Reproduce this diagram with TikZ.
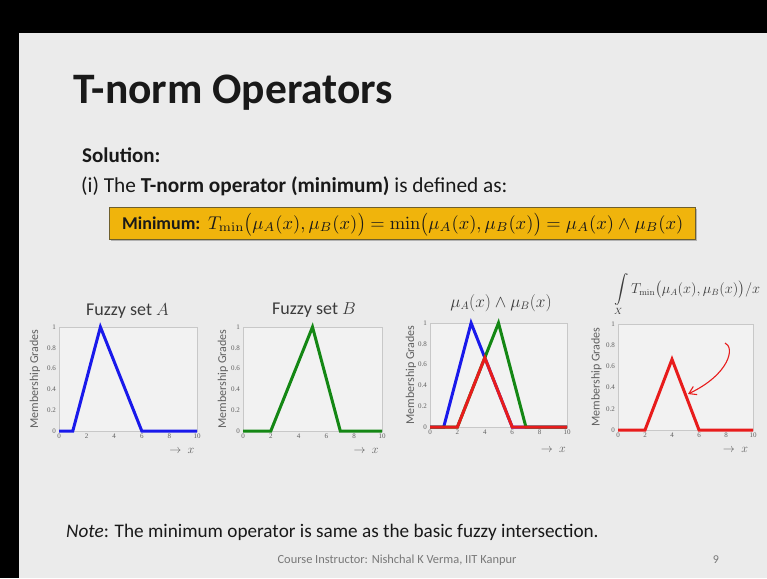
\documentclass[tikz,border=0pt]{standalone}
\usepackage[no-math]{fontspec}
\setmainfont{Carlito}
\newfontfamily\tickfont{Liberation Serif}
\usepackage{amsmath}
\usepackage{graphicx}
\usetikzlibrary{arrows.meta}
\definecolor{slidebg}{RGB}{235,235,235}
\definecolor{plotbg}{RGB}{242,242,242}
\definecolor{framegray}{RGB}{200,200,200}
\definecolor{tickgray}{RGB}{95,95,95}
\definecolor{boxfill}{RGB}{240,180,12}
\definecolor{boxdraw}{RGB}{110,95,45}
\definecolor{cblue}{RGB}{25,25,235}
\definecolor{cgreen}{RGB}{20,135,20}
\definecolor{cred}{RGB}{232,28,28}
\definecolor{textdark}{RGB}{25,25,25}
\definecolor{footgray}{RGB}{120,120,120}

\newcommand\bigpL{\mathopen{\vcenter{\hbox{\scalebox{1.1}[1.25]{$($}}}}}
\newcommand\bigpR{\mathclose{\vcenter{\hbox{\scalebox{1.1}[1.25]{$)$}}}}}

\tikzset{
  frame/.style={draw=framegray, line width=0.6pt, fill=plotbg},
  xticklab/.style={font=\tickfont\fontsize{7}{7}\selectfont, text=tickgray, anchor=north, inner sep=1pt, yshift=-2pt},
  yticklab/.style={font=\tickfont\fontsize{7}{7}\selectfont, text=tickgray, anchor=east, inner sep=1pt, xshift=-2pt},
  ylab/.style={rotate=90, font=\fontsize{12}{12}\selectfont, text=tickgray, inner sep=0pt},
  xarrow/.style={font=\fontsize{13}{13}\selectfont, text=tickgray, inner sep=0pt},
  ptitle/.style={font=\fontsize{18}{20}\selectfont, text=textdark!85, inner sep=0pt},
  curveA/.style={draw=cblue, line width=3pt},
  curveB/.style={draw=cgreen, line width=3pt},
  curveM/.style={draw=cred, line width=3pt},
  bodytext/.style={font=\fontsize{21}{25}\selectfont, text=textdark, inner sep=0pt, anchor=base west},
}

\newcommand\plotaxes[1]{%
  \draw[frame] (0,0) rectangle (10,1);
  \foreach \t [count=\i] in {0,2,4,6,8,10} \node[xticklab] (#1x\i) at (\t,0) {\t};
  \foreach \v/\n [count=\i] in {0/0,0.2/0.2,0.4/0.4,0.6/0.6,0.8/0.8,1/1} \node[yticklab] (#1y\i) at (0,\v) {\n};
}

\begin{document}
\begin{tikzpicture}[x=1pt,y=-1pt]
\useasboundingbox (0,0) rectangle (767,578);
\fill[black] (0,0) rectangle (767,578);
\fill[slidebg] (19,33) rectangle (767,578);

\node[anchor=base west, font=\fontsize{43.5}{50}\selectfont\bfseries, text=textdark, inner sep=0pt] (title) at (73,103) {T-norm Operators};
\node[bodytext, font=\fontsize{21}{25}\selectfont\bfseries] (sol) at (82,162) {Solution:};
\node[bodytext, font=\fontsize{21.3}{25}\selectfont] (def) at (81,192) {(i) The \textbf{T-norm operator (minimum)} is defined as:};

% formula box
\fill[black!30] (111,209) rectangle (697,241);
\node[draw=boxdraw, fill=boxfill, line width=0.8pt, minimum width=586pt, minimum height=32pt, anchor=north west, inner sep=0pt] (box) at (109,207) {};
\node[anchor=base west, font=\fontsize{18}{22}\selectfont\bfseries, text=textdark, inner sep=0pt] (minlab) at (122,229) {Minimum:};
\node[anchor=base west, inner sep=0pt, text=textdark] (formula) at (208,229) {\resizebox{475pt}{!}{$T_{\min}\bigpL\mu_A(x),\mu_B(x)\bigpR=\min\bigpL\mu_A(x),\mu_B(x)\bigpR=\mu_A(x)\wedge\mu_B(x)$}};

% plot 1
\node[ptitle] (ta) at (127.5,311) {Fuzzy set $A$};
\begin{scope}[shift={(59,431)}, x=13.8pt, y=104pt]
  \plotaxes{pa}
  \draw[curveA] (0,0) -- (1,0) -- (3,1) -- (6,0) -- (10,0);
  \node[ylab] (pal) at (-1.75,0.5) {Membership Grades};
  \node[xarrow] (pax) at (8.9,-0.19) {$\rightarrow\ x$};
\end{scope}

% plot 2
\node[ptitle] (tb) at (314,310) {Fuzzy set $B$};
\begin{scope}[shift={(243,431)}, x=13.9pt, y=104pt]
  \plotaxes{pb}
  \draw[curveB] (0,0) -- (2,0) -- (5,1) -- (7,0) -- (10,0);
  \node[ylab] (pbl) at (-1.45,0.5) {Membership Grades};
  \node[xarrow] (pbx) at (8.85,-0.19) {$\rightarrow\ x$};
\end{scope}

% plot 3
\node[ptitle, font=\fontsize{16}{17}\selectfont] (tc) at (501,303) {$\mu_A(x)\wedge\mu_B(x)$};
\begin{scope}[shift={(430,427)}, x=13.7pt, y=104pt]
  \plotaxes{pc}
  \draw[curveA] (0,0) -- (1,0) -- (3,1) -- (6,0) -- (10,0);
  \draw[curveB] (0,0) -- (2,0) -- (5,1) -- (7,0) -- (10,0);
  \draw[curveM] (0,0) -- (2,0) -- (4,2/3) -- (6,0) -- (10,0);
  \node[ylab] (pcl) at (-1.4,0.5) {Membership Grades};
  \node[xarrow] (pcx) at (9.0,-0.22) {$\rightarrow\ x$};
\end{scope}

% plot 4
\node[ptitle, font=\fontsize{13.5}{15}\selectfont, anchor=west] (td) at (614,295) {$\displaystyle\int\limits_X T_{\min}\bigl(\mu_A(x),\mu_B(x)\bigr)/x$};
\begin{scope}[shift={(618,430)}, x=13.5pt, y=106pt]
  \plotaxes{pd}
  \draw[curveM] (0,0) -- (2,0) -- (4,2/3) -- (6,0) -- (10,0);
  \node[ylab] (pdl) at (-1.6,0.5) {Membership Grades};
  \node[xarrow] (pdx) at (8.7,-0.19) {$\rightarrow\ x$};
\end{scope}
\coordinate (as) at (725,343);
\coordinate (ae) at (688,394);
\draw[cred, line width=1.1pt, -{Straight Barb[length=7pt,width=9pt]}] (as) .. controls (735,347) and (730,374) .. (ae);

% note and footer
\node[bodytext, font=\fontsize{19.2}{23}\selectfont] (note) at (66,537) {\textit{Note}: The minimum operator is same as the basic fuzzy intersection.};
\node[font=\fontsize{12.4}{13}\selectfont, text=footgray, inner sep=0pt] (foot) at (397,560) {Course Instructor: Nishchal K Verma, IIT Kanpur};
\node[font=\fontsize{12}{13}\selectfont, text=footgray, inner sep=0pt] (page) at (716,560) {9};
\end{tikzpicture}
\end{document}
